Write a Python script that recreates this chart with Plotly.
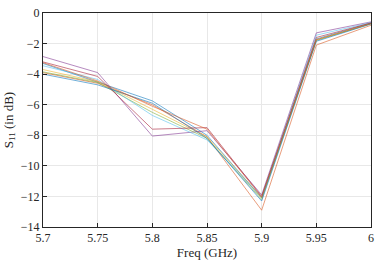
import plotly.graph_objects as go

freq = [5.7, 5.75, 5.8, 5.85, 5.9, 5.95, 6.0]
s1 = [-3.30, -4.50, -5.75, -8.00, -12.10, -1.70, -0.65]
s2 = [-3.90, -4.60, -6.00, -8.10, -12.90, -2.10, -0.80]
s3 = [-3.70, -4.50, -6.30, -8.10, -12.10, -1.75, -0.70]
s4 = [-2.85, -3.90, -8.05, -7.70, -11.90, -1.30, -0.58]
s5 = [-3.85, -4.55, -6.50, -8.20, -12.20, -1.80, -0.70]
s6 = [-3.45, -4.35, -6.70, -8.30, -12.05, -1.45, -0.62]
s7 = [-3.20, -4.15, -7.60, -7.50, -12.00, -1.60, -0.65]
s8 = [-4.00, -4.70, -5.90, -8.20, -12.30, -1.85, -0.72]
s9 = [-3.25, -4.45, -6.10, -7.60, -12.05, -1.75, -0.68]
series = [s1, s2, s3, s4, s5, s6, s7, s8, s9]
colors = ["#0072BD", "#D95319", "#EDB120", "#7E2F8E", "#77AC30",
          "#4DBEEE", "#A2142F", "#0072BD", "#D95319"]
xticks = [5.7, 5.75, 5.8, 5.85, 5.9, 5.95, 6]
xticklabels = ["5.7", "5.75", "5.8", "5.85", "5.9", "5.95", "6"]
yticks = [0, -2, -4, -6, -8, -10, -12, -14]

serif = "Liberation Serif, Times New Roman, serif"

fig = go.Figure()
for s, c in zip(series, colors):
    fig.add_trace(go.Scatter(x=freq, y=s, mode="lines",
                             line=dict(color=c, width=0.8), opacity=0.7,
                             showlegend=False))

axis_common = dict(showgrid=True, gridcolor="#e8e8e8", gridwidth=1,
                   showline=True, linecolor="#262626", linewidth=1, mirror=True,
                   ticks="inside", ticklen=4, tickcolor="#262626",
                   zeroline=False,
                   tickfont=dict(family=serif, size=12, color="#262626"))

fig.update_xaxes(range=[5.7, 6.0], tickvals=xticks, ticktext=xticklabels,
                 title=dict(text="Freq (GHz)", font=dict(family=serif, size=13, color="#262626"),
                            standoff=2),
                 **axis_common)
fig.update_yaxes(range=[-14, 0], tickvals=yticks,
                 title=dict(text="S<sub>11</sub> (in dB)", font=dict(family=serif, size=13, color="#262626"),
                            standoff=4),
                 **axis_common)

fig.update_layout(width=380, height=263,
                  margin=dict(l=43, r=6, t=6, b=36),
                  font=dict(family=serif),
                  paper_bgcolor="white", plot_bgcolor="white")

fig.write_html("out.html", config={"displayModeBar": False},
               post_script="document.body.style.margin='0';document.body.style.padding='0';")
